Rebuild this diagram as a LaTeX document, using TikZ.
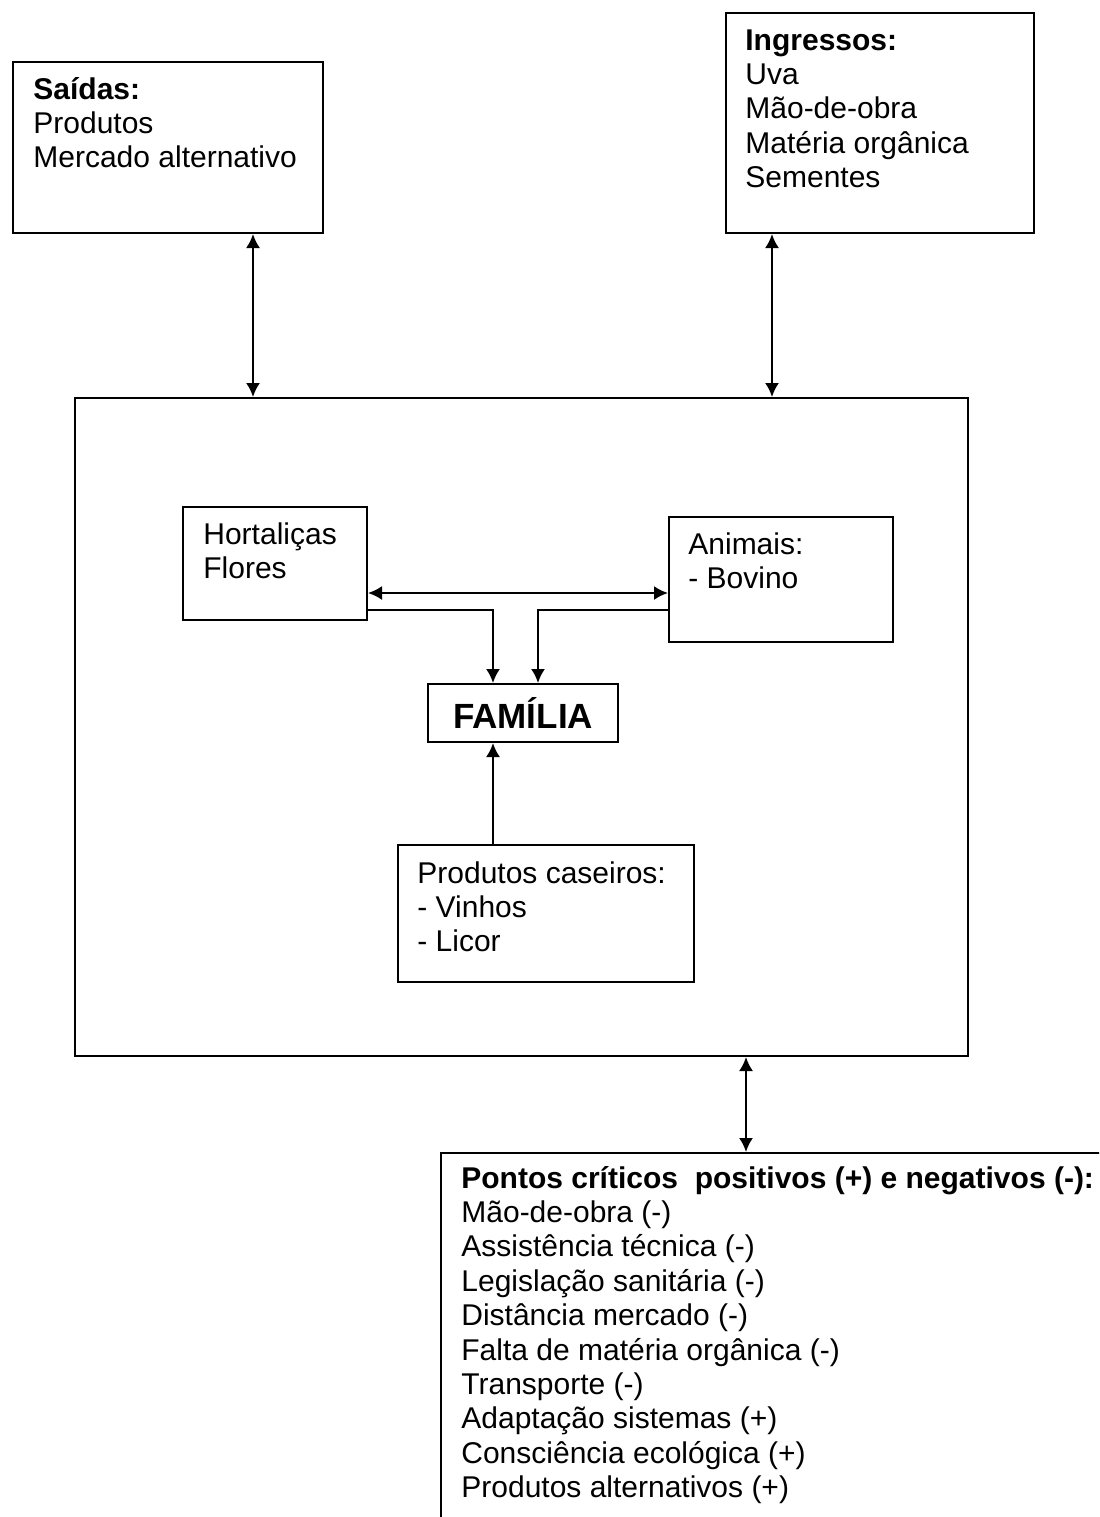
\documentclass[tikz,border=0pt]{standalone}
\usepackage{fontspec}
\setmainfont{Liberation Sans}
\usetikzlibrary{arrows.meta}

\begin{document}
\begin{tikzpicture}[
    x=0.5pt, y=-0.5pt,
    box/.style={draw, line width=1pt, rectangle, inner sep=0pt, anchor=north west},
    txt/.style={anchor=base west, inner sep=0pt, font=\fontsize{15}{17.25}\selectfont},
    hd/.style={txt, font=\fontsize{15}{17.25}\selectfont\bfseries},
    link/.style={line width=1pt, -{Latex[length=7pt,width=7pt]}},
    dbl/.style={line width=1pt, {Latex[length=7pt,width=7pt]}-{Latex[length=7pt,width=7pt]}}
]
\useasboundingbox (0,0) rectangle (1099,1517);
\fill[white] (0,0) rectangle (1099,1517);
\clip (0,0) rectangle (1099,1517);

% boxes
\node[box, minimum width=155pt, minimum height=85.5pt] (saidas) at (12,61) {};
\node[box, minimum width=154pt, minimum height=110pt] (ingressos) at (725,12) {};
\node[box, minimum width=446.5pt, minimum height=329pt] (main) at (74,397) {};
\node[box, minimum width=92pt, minimum height=56.5pt] (hort) at (182,506) {};
\node[box, minimum width=112pt, minimum height=62.5pt] (anim) at (668,516) {};
\node[box, minimum width=95pt, minimum height=29pt,
      font=\fontsize{17.5}{20}\selectfont\bfseries] (fam) at (427,683) {FAMÍLIA};
\node[box, minimum width=148pt, minimum height=68.5pt] (prod) at (397,844) {};
\node[box, minimum width=337.5pt, minimum height=194pt] (pontos) at (440,1152) {};

% box texts
\node[hd] (saT) at (33,99) {Saídas:};
\foreach \t [count=\i] in {Produtos, Mercado alternativo}
  \node[txt] (sa\i) at (33,99+\i*34.4) {\t};

\node[hd] (inT) at (745,50) {Ingressos:};
\foreach \t [count=\i] in {Uva, Mão-de-obra, Matéria orgânica, Sementes}
  \node[txt] (in\i) at (745,50+\i*34.4) {\t};

\foreach \t [count=\i from 0] in {Hortaliças, Flores}
  \node[txt] (ho\i) at (203,544+\i*34.4) {\t};

\foreach \t [count=\i from 0] in {Animais:, - Bovino}
  \node[txt] (an\i) at (688,554+\i*34.4) {\t};

\foreach \t [count=\i from 0] in {Produtos caseiros:, - Vinhos, - Licor}
  \node[txt] (pc\i) at (417,883+\i*34.4) {\t};

\node[hd] (poT) at (461,1188) {Pontos críticos\ \ positivos (+) e negativos (-):};
\foreach \t [count=\i] in {Mão-de-obra (-), Assistência técnica (-), Legislação sanitária (-),
    Distância mercado (-), Falta de matéria orgânica (-), Transporte (-),
    Adaptação sistemas (+), Consciência ecológica (+), Produtos alternativos (+)}
  \node[txt] (po\i) at (461,1188+\i*34.4) {\t};

% connector guide positions
\coordinate (xs) at (253,0);
\coordinate (xi) at (772,0);
\coordinate (xp) at (746,0);
\coordinate (xl) at (493,0);
\coordinate (xr) at (538,0);
\coordinate (ya) at (0,593);
\coordinate (yb) at (0,610);

% connectors
\draw[dbl] (saidas.south -| xs) -- (main.north -| xs);
\draw[dbl] (ingressos.south -| xi) -- (main.north -| xi);
\draw[dbl] (hort.east |- ya) -- (anim.west |- ya);
\draw[link] (hort.east |- yb) -| (fam.north -| xl);
\draw[link] (anim.west |- yb) -| (fam.north -| xr);
\draw[link] (prod.north -| xl) -- (fam.south -| xl);
\draw[dbl] (main.south -| xp) -- (pontos.north -| xp);
\end{tikzpicture}
\end{document}
